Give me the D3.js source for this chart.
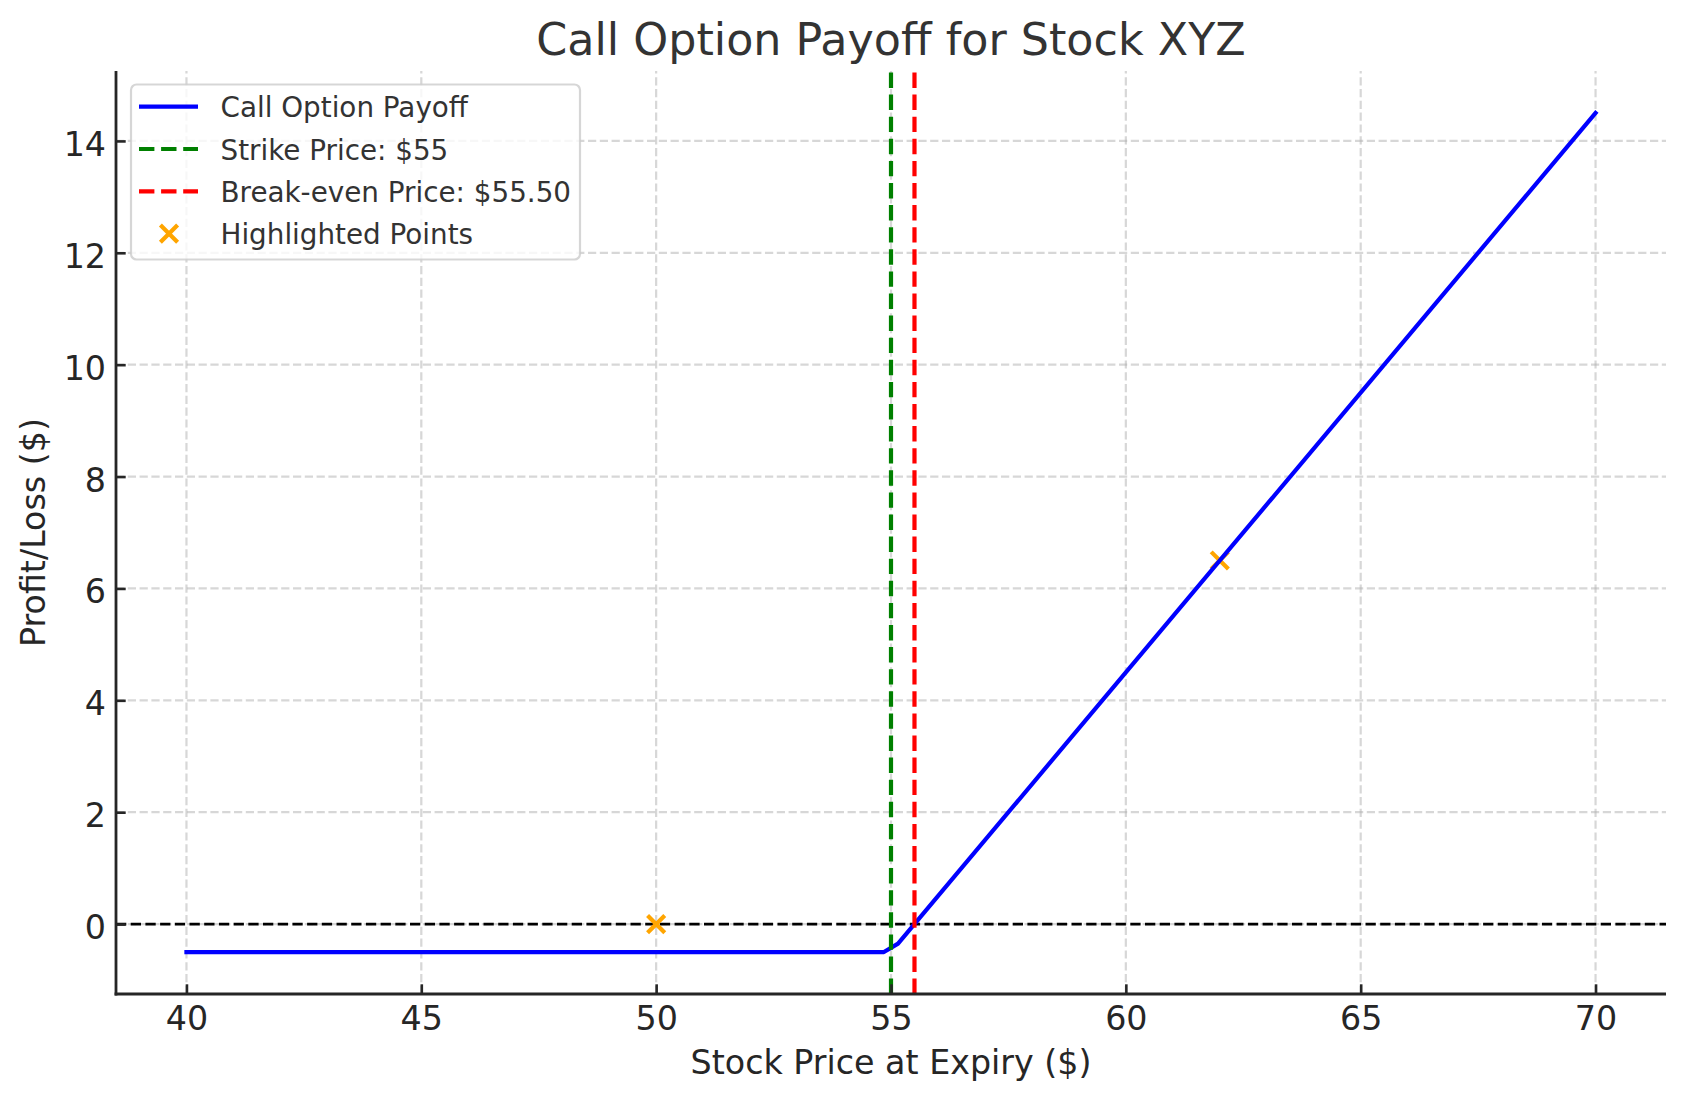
<!DOCTYPE html>
<html>
<head>
<meta charset="utf-8">
<script src="https://cdn.jsdelivr.net/npm/d3@7"></script>
<style>
  html, body { margin: 0; padding: 0; background: #fff; }
  svg { display: block; font-family: "DejaVu Sans", sans-serif; }
</style>
</head>
<body>
<script>
// ---- data ----
const priceX = [40, 54.85, 55.15, 70];
const payoffY = [-0.5, -0.5, -0.35, 14.5];
const strikePrice = 55;
const breakEvenPrice = 55.5;
const highlightX = [50, 62];
const highlightY = [0, 6.5];
const xTicks = [40, 45, 50, 55, 60, 65, 70];
const yTicks = [0, 2, 4, 6, 8, 10, 12, 14];
const legendLabels = ["Call Option Payoff", "Strike Price: $55", "Break-even Price: $55.50", "Highlighted Points"];

// ---- layout ----
const W = 1686, H = 1101;
const m = { left: 116, right: 1666, top: 71, bottom: 994 };
const textColor = "#262626";

const x = d3.scaleLinear().domain([38.5, 71.5]).range([m.left, m.right]);
const y = d3.scaleLinear().domain([-1.25, 15.25]).range([m.bottom, m.top]);

const svg = d3.select("body").append("svg").attr("width", W).attr("height", H);
svg.append("rect").attr("width", W).attr("height", H).attr("fill", "#fff");

// grid
const grid = svg.append("g");
xTicks.forEach(t => {
  grid.append("line").attr("x1", x(t)).attr("x2", x(t)).attr("y1", m.bottom).attr("y2", m.top)
    .attr("stroke", "#b0b0b0").attr("stroke-opacity", 0.5).attr("stroke-width", 2.2).attr("stroke-dasharray", "8.2,3.6");
});
yTicks.forEach(t => {
  grid.append("line").attr("y1", y(t)).attr("y2", y(t)).attr("x1", m.left).attr("x2", m.right)
    .attr("stroke", "#b0b0b0").attr("stroke-opacity", 0.5).attr("stroke-width", 2.2).attr("stroke-dasharray", "8.2,3.6");
});

// zero line
svg.append("line").attr("x1", m.left).attr("x2", m.right).attr("y1", y(0)).attr("y2", y(0))
  .attr("stroke", "#000").attr("stroke-width", 2.8).attr("stroke-dasharray", "10.3,4.4");

// highlighted points
const xMark = (g, cx, cy) => {
  const s = 8.6;
  g.append("path").attr("d", `M${cx - s},${cy - s}L${cx + s},${cy + s}M${cx - s},${cy + s}L${cx + s},${cy - s}`)
    .attr("stroke", "#FFA500").attr("stroke-width", 4.2).attr("fill", "none");
};
const pts = svg.append("g");
highlightX.forEach((v, i) => xMark(pts, x(v), y(highlightY[i])));

// payoff line
const line = d3.line().x(d => x(d[0])).y(d => y(d[1]));
svg.append("path").datum(priceX.map((v, i) => [v, payoffY[i]]))
  .attr("d", line).attr("fill", "none").attr("stroke", "#0000FF").attr("stroke-width", 4.2)
  .attr("stroke-linejoin", "round").attr("stroke-linecap", "square");

// vertical lines
svg.append("line").attr("x1", x(strikePrice)).attr("x2", x(strikePrice)).attr("y1", m.bottom).attr("y2", m.top)
  .attr("stroke", "#008000").attr("stroke-width", 4.2).attr("stroke-dasharray", "15.4,6.7");
svg.append("line").attr("x1", x(breakEvenPrice)).attr("x2", x(breakEvenPrice)).attr("y1", m.bottom).attr("y2", m.top)
  .attr("stroke", "#FF0000").attr("stroke-width", 4.2).attr("stroke-dasharray", "15.4,6.7");

// axes
const xAxis = svg.append("g").attr("transform", `translate(0,${m.bottom})`)
  .call(d3.axisBottom(x).tickValues(xTicks).tickSize(-9.7).tickPadding(0).tickFormat(d3.format("d")));
const yAxis = svg.append("g").attr("transform", `translate(${m.left},0)`)
  .call(d3.axisLeft(y).tickValues(yTicks).tickSize(-9.7).tickPadding(0).tickFormat(d3.format("d")));
[xAxis, yAxis].forEach(a => {
  a.select(".domain").remove();
  a.selectAll(".tick line").attr("stroke", textColor).attr("stroke-width", 2.6);
  a.selectAll(".tick text").attr("fill", textColor).style("font-size", "33.3px")
    .style("font-family", "DejaVu Sans, sans-serif");
});
xAxis.selectAll(".tick text").attr("dy", null).attr("y", 36).attr("text-anchor", "middle");
yAxis.selectAll(".tick text").attr("dy", null).attr("x", -10).attr("y", 14.5).attr("text-anchor", "end");

// spines
svg.append("line").attr("x1", m.left).attr("x2", m.left).attr("y1", m.top).attr("y2", m.bottom + 1.4)
  .attr("stroke", textColor).attr("stroke-width", 2.8);
svg.append("line").attr("x1", m.left - 1.4).attr("x2", m.right).attr("y1", m.bottom).attr("y2", m.bottom)
  .attr("stroke", textColor).attr("stroke-width", 2.8);

// title & labels
svg.append("text").attr("x", (m.left + m.right) / 2).attr("y", 55).attr("text-anchor", "middle")
  .attr("fill", "#333").style("font-size", "44.4px").text("Call Option Payoff for Stock XYZ");
svg.append("text").attr("x", (m.left + m.right) / 2).attr("y", 1074).attr("text-anchor", "middle")
  .attr("fill", textColor).style("font-size", "33.3px").text("Stock Price at Expiry ($)");
svg.append("text").attr("transform", `translate(45,${(m.top + m.bottom) / 2}) rotate(-90)`)
  .attr("text-anchor", "middle").attr("fill", textColor).style("font-size", "33.3px").text("Profit/Loss ($)");

// legend
const lg = svg.append("g");
lg.append("rect").attr("x", 131).attr("y", 84.5).attr("width", 449).attr("height", 175).attr("rx", 5.6)
  .attr("fill", "#fff").attr("fill-opacity", 0.8).attr("stroke", "#cccccc").attr("stroke-opacity", 0.8).attr("stroke-width", 2.2);
const rowY = [106.7, 149, 191.3, 233.6];
const hx1 = 139, hx2 = 198;
lg.append("line").attr("x1", hx1).attr("x2", hx2).attr("y1", rowY[0]).attr("y2", rowY[0])
  .attr("stroke", "#0000FF").attr("stroke-width", 4.2);
lg.append("line").attr("x1", hx1).attr("x2", hx2).attr("y1", rowY[1]).attr("y2", rowY[1])
  .attr("stroke", "#008000").attr("stroke-width", 4.2).attr("stroke-dasharray", "15.4,6.7");
lg.append("line").attr("x1", hx1).attr("x2", hx2).attr("y1", rowY[2]).attr("y2", rowY[2])
  .attr("stroke", "#FF0000").attr("stroke-width", 4.2).attr("stroke-dasharray", "15.4,6.7");
xMark(lg, 169, rowY[3]);
legendLabels.forEach((t, i) => {
  lg.append("text").attr("x", 220.5).attr("y", rowY[i] + 10.5).attr("fill", "#333")
    .style("font-size", "27.8px").text(t);
});
</script>
</body>
</html>
